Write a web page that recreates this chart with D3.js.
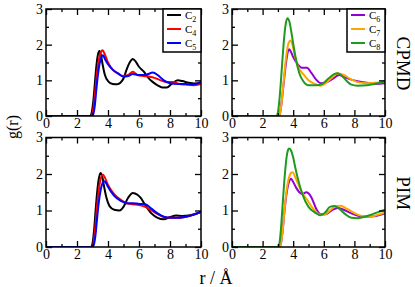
<!DOCTYPE html>
<html>
<head>
<meta charset="utf-8">
<script src="https://cdn.jsdelivr.net/npm/d3@7"></script>
<style>
  body { margin: 0; background: #fff; }
  text { font-family: "Liberation Serif", "DejaVu Serif", serif; fill: #000; }
</style>
</head>
<body>
<svg id="chart" width="415" height="287"></svg>
<script>
// r (Angstrom), g(r) pairs
const cpmdC2 = [[0,0],[2.85,0],[2.95,0.1],[3.05,0.4],[3.15,0.9],[3.25,1.4],[3.35,1.72],[3.45,1.82],[3.55,1.7],[3.65,1.45],[3.8,1.15],[4.0,0.98],[4.3,0.9],[4.6,0.89],[4.8,0.93],[5.0,1.05],[5.2,1.3],[5.4,1.5],[5.6,1.6],[5.8,1.52],[6.0,1.38],[6.3,1.25],[6.6,1.07],[6.9,0.95],[7.2,0.86],[7.5,0.8],[7.8,0.8],[8.1,0.9],[8.5,1.0],[8.8,0.98],[9.2,0.93],[9.6,0.91],[10,0.95]];
const cpmdC4 = [[0,0],[2.9,0],[3.0,0.08],[3.1,0.35],[3.2,0.8],[3.3,1.25],[3.4,1.55],[3.5,1.75],[3.65,1.84],[3.8,1.72],[4.0,1.5],[4.3,1.3],[4.6,1.2],[5.0,1.12],[5.3,1.15],[5.6,1.24],[5.9,1.15],[6.3,1.12],[6.7,1.1],[7.0,1.07],[7.4,1.0],[7.8,0.95],[8.2,0.95],[8.6,0.9],[9.0,0.88],[9.5,0.86],[10,0.9]];
const cpmdC5 = [[0,0],[2.95,0],[3.05,0.06],[3.15,0.3],[3.25,0.75],[3.35,1.15],[3.45,1.45],[3.55,1.62],[3.68,1.7],[3.8,1.6],[4.0,1.45],[4.3,1.3],[4.7,1.18],[5.0,1.1],[5.3,1.12],[5.6,1.18],[6.0,1.15],[6.4,1.15],[6.9,1.22],[7.2,1.15],[7.6,1.0],[8.0,0.92],[8.5,0.9],[9.0,0.9],[9.5,0.88],[10,0.95]];
const cpmdC6 = [[0,0],[3.05,0],[3.15,0.1],[3.25,0.4],[3.35,0.8],[3.45,1.2],[3.55,1.55],[3.65,1.8],[3.73,1.87],[3.85,1.8],[4.0,1.65],[4.3,1.45],[4.6,1.35],[4.9,1.35],[5.2,1.2],[5.5,1.02],[5.8,0.92],[6.2,0.95],[6.6,1.05],[7.0,1.15],[7.3,1.1],[7.8,1.02],[8.3,0.97],[8.8,0.93],[9.4,0.9],[10,0.92]];
const cpmdC7 = [[0,0],[3.05,0],[3.15,0.1],[3.25,0.4],[3.35,0.85],[3.45,1.3],[3.55,1.7],[3.7,2.05],[3.82,2.12],[3.95,2.0],[4.1,1.7],[4.3,1.4],[4.7,1.15],[5.0,1.0],[5.4,0.9],[5.8,0.85],[6.2,0.95],[6.6,1.1],[6.9,1.2],[7.3,1.15],[7.7,1.05],[8.2,0.95],[8.8,0.92],[9.4,0.93],[10,0.97]];
const cpmdC8 = [[0,0],[2.9,0],[3.0,0.1],[3.1,0.45],[3.2,1.0],[3.3,1.6],[3.4,2.15],[3.5,2.55],[3.62,2.74],[3.75,2.65],[3.9,2.3],[4.05,1.9],[4.2,1.55],[4.4,1.2],[4.65,0.98],[5.0,0.86],[5.5,0.86],[5.9,0.9],[6.3,1.05],[6.7,1.18],[6.9,1.2],[7.2,1.12],[7.5,0.98],[7.8,0.88],[8.2,0.85],[8.8,0.86],[9.3,0.9],[10,0.97]];

const pimC2 = [[0,0],[2.9,0],[3.0,0.1],[3.1,0.45],[3.2,1.0],[3.3,1.5],[3.4,1.85],[3.52,2.03],[3.62,1.95],[3.75,1.65],[3.9,1.35],[4.1,1.12],[4.4,1.02],[4.75,1.0],[5.0,1.1],[5.3,1.35],[5.6,1.48],[5.9,1.43],[6.1,1.35],[6.4,1.15],[6.8,0.92],[7.2,0.8],[7.6,0.76],[8.0,0.82],[8.4,0.86],[8.8,0.85],[9.3,0.87],[10,0.95]];
const pimC4 = [[0,0],[2.95,0],[3.05,0.08],[3.15,0.4],[3.25,0.9],[3.35,1.35],[3.45,1.7],[3.55,1.9],[3.68,1.98],[3.8,1.9],[4.0,1.7],[4.4,1.45],[4.8,1.3],[5.2,1.2],[5.6,1.17],[6.0,1.15],[6.4,1.1],[6.8,1.0],[7.2,0.9],[7.6,0.82],[8.0,0.8],[8.5,0.8],[9.0,0.82],[9.5,0.88],[10,0.97]];
const pimC5 = [[0,0],[3.0,0],[3.1,0.08],[3.2,0.35],[3.3,0.8],[3.4,1.2],[3.5,1.5],[3.62,1.72],[3.75,1.8],[3.88,1.75],[4.0,1.65],[4.4,1.4],[4.8,1.27],[5.2,1.2],[5.6,1.2],[6.0,1.18],[6.4,1.17],[6.8,1.05],[7.2,0.92],[7.6,0.83],[8.0,0.8],[8.5,0.8],[9.0,0.83],[9.5,0.88],[10,0.97]];
const pimC6 = [[0,0],[3.1,0],[3.2,0.1],[3.3,0.4],[3.4,0.85],[3.5,1.25],[3.6,1.55],[3.72,1.78],[3.86,1.87],[4.0,1.78],[4.2,1.62],[4.4,1.5],[4.6,1.45],[4.85,1.5],[5.0,1.47],[5.2,1.35],[5.5,1.05],[5.8,0.9],[6.1,0.9],[6.5,1.0],[6.9,1.07],[7.3,1.02],[7.8,0.92],[8.3,0.85],[8.8,0.83],[9.4,0.85],[10,0.92]];
const pimC7 = [[0,0],[3.1,0],[3.2,0.1],[3.3,0.4],[3.4,0.85],[3.5,1.3],[3.6,1.65],[3.72,1.9],[3.85,2.03],[3.95,2.05],[4.2,1.85],[4.5,1.55],[4.9,1.3],[5.3,1.05],[5.7,0.9],[6.0,0.88],[6.4,1.0],[6.8,1.12],[7.1,1.13],[7.5,1.05],[8.0,0.93],[8.5,0.85],[9.0,0.83],[9.5,0.88],[10,0.95]];
const pimC8 = [[0,0],[3.0,0],[3.1,0.1],[3.2,0.5],[3.3,1.1],[3.4,1.7],[3.5,2.2],[3.6,2.55],[3.72,2.7],[3.85,2.65],[4.0,2.45],[4.15,2.15],[4.3,1.88],[4.6,1.45],[5.0,1.1],[5.4,0.95],[5.8,0.87],[6.1,0.95],[6.4,1.1],[6.7,1.12],[7.0,1.05],[7.4,0.9],[7.8,0.8],[8.2,0.79],[8.6,0.82],[9.0,0.87],[9.5,0.95],[10,1.02]];

const leftNames = ['2', '4', '5'];
const rightNames = ['6', '7', '8'];
const leftColors = ['#000000', '#ff0000', '#0000ff'];
const rightColors = ['#9400d3', '#ffa500', '#1e9a1e'];
const xMajor = [0, 2, 4, 6, 8, 10];
const xMinor = [1, 3, 5, 7, 9];
const yMajor = [0, 1, 2, 3];
const yMinor = [0.5, 1.5, 2.5];

const svg = d3.select('#chart');

const cols = [{ x0: 46, x1: 201 }, { x0: 232, x1: 385 }];
const rows = [{ y0: 9, y1: 116, label: 'CPMD' }, { y0: 137.5, y1: 247, label: 'PIM' }];

const panels = [
    { col: 0, row: 0, series: [cpmdC2, cpmdC4, cpmdC5], colors: leftColors, names: leftNames },
    { col: 1, row: 0, series: [cpmdC6, cpmdC7, cpmdC8], colors: rightColors, names: rightNames },
    { col: 0, row: 1, series: [pimC2, pimC4, pimC5], colors: leftColors, names: leftNames },
    { col: 1, row: 1, series: [pimC6, pimC7, pimC8], colors: rightColors, names: rightNames },
];

panels.forEach(p => {
    const c = cols[p.col], r = rows[p.row];
    const w = c.x1 - c.x0, h = r.y1 - r.y0;
    const x = d3.scaleLinear().domain([0, 10]).range([0, w]);
    const y = d3.scaleLinear().domain([0, 3]).range([h, 0]);
    const g = svg.append('g').attr('transform', `translate(${c.x0},${r.y0})`);

    // clip so the lines stay inside the frame
    const clipId = `clip${p.col}${p.row}`;
    g.append('clipPath').attr('id', clipId)
        .append('rect').attr('width', w).attr('height', h + 1).attr('y', -1);

    const line = d3.line()
        .x(d => x(d[0]))
        .y(d => y(d[1]))
        .curve(d3.curveMonotoneX);

    p.series.forEach((s, i) => {
        g.append('path')
            .datum(s)
            .attr('fill', 'none')
            .attr('stroke', p.colors[i])
            .attr('stroke-width', 2)
            .attr('stroke-linejoin', 'round')
            .attr('clip-path', `url(#${clipId})`)
            .attr('d', line);
    });

    // inward ticks on all four sides
    const style = sel => {
        sel.select('.domain').remove();
        sel.selectAll('line').attr('stroke', '#000').attr('stroke-width', 1.3);
        sel.selectAll('text').style('font-family', '"Liberation Serif", serif').style('font-size', '14px');
    };
    g.append('g').attr('transform', `translate(0,${h})`)
        .call(d3.axisBottom(x).tickValues(xMajor).tickSize(-6).tickPadding(2).tickFormat(d3.format('d'))).call(style);
    g.append('g').attr('transform', `translate(0,${h})`)
        .call(d3.axisBottom(x).tickValues(xMinor).tickSize(-3).tickFormat('')).call(style);
    g.append('g')
        .call(d3.axisTop(x).tickValues(xMajor).tickSize(-6).tickFormat('')).call(style);
    g.append('g')
        .call(d3.axisTop(x).tickValues(xMinor).tickSize(-3).tickFormat('')).call(style);
    g.append('g')
        .call(d3.axisLeft(y).tickValues(yMajor).tickSize(-6).tickPadding(3).tickFormat(d3.format('d'))).call(style);
    g.append('g')
        .call(d3.axisLeft(y).tickValues(yMinor).tickSize(-3).tickFormat('')).call(style);
    g.append('g').attr('transform', `translate(${w},0)`)
        .call(d3.axisRight(y).tickValues(yMajor).tickSize(-6).tickFormat('')).call(style);
    g.append('g').attr('transform', `translate(${w},0)`)
        .call(d3.axisRight(y).tickValues(yMinor).tickSize(-3).tickFormat('')).call(style);

    g.append('rect')
        .attr('width', w).attr('height', h)
        .attr('fill', 'none').attr('stroke', '#000').attr('stroke-width', 1.5);

    // legend on the top panels only
    if (p.row === 0) {
        const lw = 38, lh = 43;
        const lg = g.append('g').attr('transform', `translate(${w - lw},0)`);
        lg.append('rect').attr('width', lw).attr('height', lh)
            .attr('fill', '#fff').attr('stroke', '#000').attr('stroke-width', 1.5);
        p.names.forEach((n, i) => {
            const yy = 6 + i * 14;
            lg.append('line')
                .attr('x1', 4).attr('x2', 18).attr('y1', yy).attr('y2', yy)
                .attr('stroke', p.colors[i]).attr('stroke-width', 2);
            const t = lg.append('text').attr('x', 22).attr('y', yy + 4).style('font-size', '11px');
            t.append('tspan').text('C');
            t.append('tspan').attr('dy', 3).style('font-size', '8px').text(n);
        });
    }

    if (p.col === 1) {
        svg.append('text')
            .attr('transform', `translate(397,${(r.y0 + r.y1) / 2 + 1}) rotate(90)`)
            .attr('text-anchor', 'middle')
            .style('font-size', '19px')
            .text(r.label);
    }
});

svg.append('text')
    .attr('transform', 'translate(18,127) rotate(-90)')
    .attr('text-anchor', 'middle')
    .style('font-size', '16px')
    .text('g(r)');

svg.append('text')
    .attr('x', 216).attr('y', 284)
    .attr('text-anchor', 'middle')
    .style('font-size', '18px')
    .text('r / Å');
</script>
</body>
</html>
